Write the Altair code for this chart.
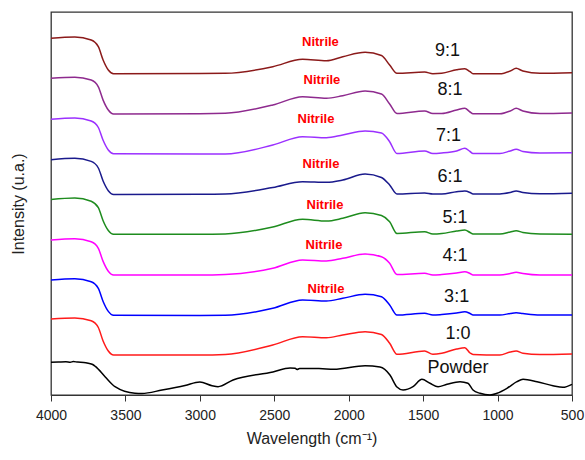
import altair as alt
import pandas as pd

# Shared wavenumber grid (cm-1) for the coated samples
wn = [4000, 3840, 3730, 3682, 3650, 3615, 3580, 3000, 2830, 2510, 2310, 2150, 2040, 1890,
      1780, 1725, 1676, 1490, 1435, 1375, 1275, 1220, 1185, 1165, 985, 915, 875, 830, 715, 500]

s_9_1 = [356.7, 358, 355, 348.3, 335, 325, 321.3, 321.5, 321.7, 328.3, 335.7, 334.3, 338.3, 342.7,
         339.5, 330, 321.7, 323, 321.3, 321.7, 325.3, 326.3, 323.3, 321.3, 321.3, 324, 326.7, 324, 321.7, 322.3]
s_8_1 = [316.7, 317.7, 315, 308.2, 294.9, 285, 281, 281.2, 281.7, 290, 298.3, 296.7, 299.3, 304,
         301, 291, 281.5, 284, 281.5, 281.5, 285, 286.7, 283, 281.2, 281.2, 284, 286.7, 284, 281.5, 282]
s_7_1 = [275.7, 277, 274, 267.5, 254.7, 245, 241.3, 241, 241, 250, 258.3, 257.3, 260, 264,
         262, 253.3, 241.5, 244, 241.5, 242, 244, 246.7, 243.5, 241.5, 241.5, 244, 245.7, 243.5, 242, 242.3]
s_6_1 = [235.3, 236.7, 233.6, 227, 214, 204.3, 200.5, 200.7, 201, 207.5, 213.3, 212.7, 215, 221,
         217.5, 210, 201, 202, 201, 201, 203.3, 204, 202.5, 201, 201, 202.5, 204, 202.5, 201.2, 201.7]
s_5_1 = [195.5, 197, 193.8, 187.3, 174.3, 164.5, 160.7, 160.7, 161, 168, 175.7, 174, 176.7, 182.3,
         179.5, 173.3, 161.5, 163.3, 161, 161.5, 164, 165, 162.5, 161, 161, 163, 164.3, 162.5, 161, 160.7]
s_4_1 = [155, 156.3, 153.3, 146.7, 133.6, 123.8, 120, 120, 120.5, 126.7, 135, 134, 136.7, 141,
         138.3, 131.7, 120.5, 121.7, 120, 120.5, 122, 123.3, 121.5, 120, 120, 121.5, 122.7, 121.5, 120, 120]
s_3_1 = [115, 116.3, 113.3, 106.6, 93.5, 83.6, 79.7, 79.5, 79.7, 86.7, 95, 94, 96.7, 100.7,
         98.3, 90, 80, 81.7, 80, 80.5, 82, 83.3, 81.5, 80, 80, 81.5, 82.3, 81.5, 80, 80]
s_1_0 = [76, 77, 74.3, 67.5, 54, 44, 40, 40, 40.5, 50, 58.3, 57.3, 60, 63.3,
         60.5, 51.7, 40.7, 44, 40.7, 41.7, 46, 47.3, 42, 40.5, 40, 43, 44, 41.7, 40.5, 41]

# Powder spectrum on its own grid
wn_powder = [4000, 3950, 3900, 3870, 3850, 3820, 3780, 3750, 3720, 3700, 3637, 3570, 3436, 3389,
             3254, 3100, 3000, 2918, 2878, 2777, 2509, 2394, 2360, 2347, 2330, 2200, 2100, 1890,
             1790, 1723, 1676, 1635, 1568, 1508, 1454, 1400, 1340, 1252, 1199, 1165, 1118, 1051,
             1004, 937, 870, 829, 735, 628, 561, 500]
s_powder = [32.7, 33.0, 33.3, 32.8, 33.4, 32.9, 32.6, 31.8, 30.5, 28.3, 18.3, 8.3, 1.7, 1.5,
            5, 9.5, 13, 9.3, 8.3, 15, 23, 27, 26.7, 25.5, 26.5, 26.5, 25.7, 29.3,
            28, 20, 8, 5, 8.3, 15.7, 11.7, 8.3, 10.7, 13.3, 11.7, 5, 1.7, 0,
            1.7, 6.7, 13.3, 15.7, 13.3, 9.3, 7.7, 10.7]

series_names = ["9:1", "8:1", "7:1", "6:1", "5:1", "4:1", "3:1", "1:0", "Powder"]
series_colors = ["#8B1A1A", "#8E2A8E", "#9B30FF", "#1A1A8C", "#1E8C1E", "#FF00FF", "#0000FF", "#FF1A1A", "#000000"]

# Labels
ratio_text = series_names
ratio_x = [1336, 1320, 1330, 1320, 1286, 1286, 1275, 1266, 1266]
ratio_y = [343.7, 305.5, 259, 218.3, 177.2, 138.7, 97.8, 61.2, 26.7]

nitrile_x = [2190, 2180, 2220, 2186, 2159, 2166, 2153]
nitrile_y = [353.3, 314.7, 275.7, 230.7, 189.7, 150, 105.7]

rows = []
for name, vals in zip(series_names[:-1], [s_9_1, s_8_1, s_7_1, s_6_1, s_5_1, s_4_1, s_3_1, s_1_0]):
    for w, v in zip(wn, vals):
        rows.append({"series": name, "wn": w, "I": v})
for w, v in zip(wn_powder, s_powder):
    rows.append({"series": "Powder", "wn": w, "I": v})
df = pd.DataFrame(rows)

df_ratio = pd.DataFrame({"t": ratio_text, "wn": ratio_x, "I": ratio_y})
df_nit = pd.DataFrame({"t": ["Nitrile"] * len(nitrile_x), "wn": nitrile_x, "I": nitrile_y})

FONT = "Liberation Sans"

xscale = alt.Scale(domain=[500, 4000], reverse=True, nice=False, zero=False)
yscale = alt.Scale(domain=[0, 383], nice=False, zero=False)

tick_vals = list(range(500, 4001, 250))

lines = alt.Chart(df).mark_line(strokeWidth=1.5, interpolate="monotone").encode(
    x=alt.X("wn:Q", scale=xscale,
            axis=alt.Axis(title="Wavelength (cm⁻¹)", values=tick_vals,
                          labelExpr="datum.value % 500 === 0 ? '' + datum.value : ''",
                          labelFlush=False, labelOverlap=False,
                          tickSize=6, tickColor="#333", domainColor="#333",
                          labelFontSize=14, labelColor="#222", labelPadding=7,
                          titleFontSize=16, titleFontWeight="normal", titleColor="#222",
                          titlePadding=8, grid=False, labelFont=FONT, titleFont=FONT)),
    y=alt.Y("I:Q", scale=yscale,
            axis=alt.Axis(title="Intensity (u.a.)", labels=False, ticks=False, domain=False,
                          grid=False, titleFontSize=16, titleFontWeight="normal",
                          titleColor="#222", titlePadding=25, titleFont=FONT)),
    color=alt.Color("series:N", scale=alt.Scale(domain=series_names, range=series_colors), legend=None),
    detail="series:N",
)

ratio_labels = alt.Chart(df_ratio).mark_text(fontSize=18, font=FONT, color="#111",
                                             align="center", baseline="middle").encode(
    x=alt.X("wn:Q", scale=xscale), y=alt.Y("I:Q", scale=yscale), text="t:N")

nitrile_labels = alt.Chart(df_nit).mark_text(fontSize=13, font=FONT, fontWeight="bold", color="#FF0000",
                                             align="center", baseline="middle").encode(
    x=alt.X("wn:Q", scale=xscale), y=alt.Y("I:Q", scale=yscale), text="t:N")

chart = alt.layer(lines, ratio_labels, nitrile_labels).properties(
    width=521, height=383,
    autosize=alt.AutoSizeParams(type="none"),
    padding={"left": 51, "top": 12, "right": 13, "bottom": 65},
    background="white",
).configure_view(stroke="#333", strokeWidth=1.3)

chart.save("out.html", embed_options={"renderer": "svg", "actions": False})
